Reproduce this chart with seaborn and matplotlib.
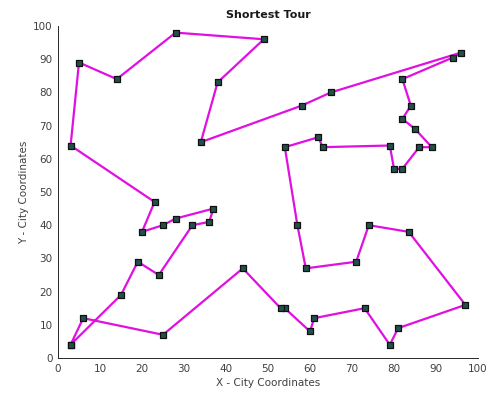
import matplotlib
matplotlib.use("Agg")
import matplotlib.pyplot as plt
import seaborn as sns
import pandas as pd

# City coordinates in visiting order (tour closes back at the first city)
tour_x = [3, 15, 19, 24, 32, 36, 37, 28, 25, 20, 23, 3, 5, 14, 28, 49, 38, 34,
          58, 65, 96, 94, 82, 84, 82, 85, 89, 86, 82, 80, 79, 63, 62, 54, 57, 59,
          71, 74, 83.5, 97, 81, 79, 73, 61, 60, 54, 53, 44, 25, 6, 3]
tour_y = [4, 19, 29, 25, 40, 41, 45, 42, 40, 38, 47, 64, 89, 84, 98, 96, 83, 65,
          76, 80, 92, 90.5, 84, 76, 72, 69, 63.5, 63.5, 57, 57, 64, 63.5, 66.5, 63.5, 40, 27,
          29, 40, 38, 16, 9, 4, 15, 12, 8, 15, 15, 27, 7, 12, 4]

x_ticks = [0, 10, 20, 30, 40, 50, 60, 70, 80, 90, 100]
y_ticks = [0, 10, 20, 30, 40, 50, 60, 70, 80, 90, 100]

df = pd.DataFrame({"x": tour_x, "y": tour_y})

sns.set_style("white")
plt.rcParams["font.family"] = ["DejaVu Sans"]

fig = plt.figure(figsize=(4.89, 4.01), dpi=100)
ax = fig.add_axes([0.1186, 0.1072, 0.8589, 0.828])

sns.lineplot(data=df, x="x", y="y", sort=False, estimator=None,
             color="#e010e0", linewidth=1.6, ax=ax, zorder=2)
sns.scatterplot(data=df, x="x", y="y", marker="s", s=18, color="#22504c",
                edgecolor="#111111", linewidth=0.9, ax=ax, zorder=3)

ax.set_xlim(0, 100)
ax.set_ylim(0, 100)
ax.set_xticks(x_ticks)
ax.set_yticks(y_ticks)
ax.tick_params(direction="in", length=3, width=0.6, labelsize=7.5,
               colors="#262626", labelcolor="#404040", pad=4)
for side in ["top", "right"]:
    ax.spines[side].set_visible(False)
for side in ["left", "bottom"]:
    ax.spines[side].set_color("#262626")
    ax.spines[side].set_linewidth(0.7)

ax.set_title("Shortest Tour", fontsize=8, fontweight="bold", color="#1a1a1a", pad=6)
ax.set_xlabel("X - City Coordinates", fontsize=7.5, color="#404040", labelpad=3)
ax.set_ylabel("Y - City Coordinates", fontsize=7.5, color="#404040", labelpad=3)

fig.savefig("out.png", dpi=100)
